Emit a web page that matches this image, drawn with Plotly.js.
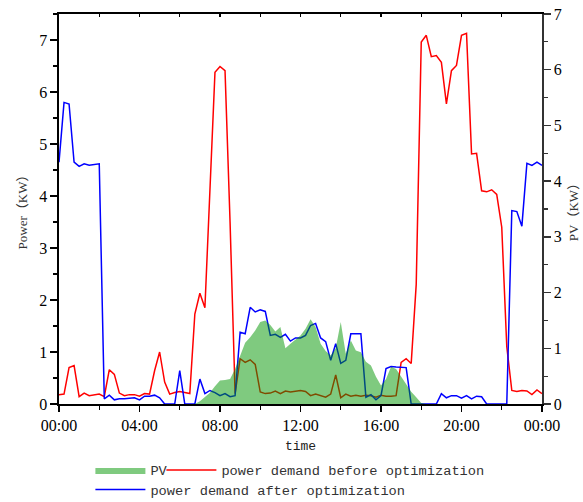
<!DOCTYPE html>
<html>
<head>
<meta charset="utf-8">
<script src="https://cdn.plot.ly/plotly-3.0.1.min.js"></script>
<style>html,body{margin:0;padding:0;background:#fff;}#chart{width:583px;height:502px;}</style>
</head>
<body>
<div id="chart"></div>
<script>
// time of day in hours (15-minute steps)
const hours = [0,0.25,0.5,0.75,1,1.25,1.5,1.75,2,2.25,2.5,2.75,3,3.25,3.5,3.75,4,4.25,4.5,4.75,5,5.25,5.5,5.75,6,6.25,6.5,6.75,7,7.25,7.5,7.75,8,8.25,8.5,8.75,9,9.25,9.5,9.75,10,10.25,10.5,10.75,11,11.25,11.5,11.75,12,12.25,12.5,12.75,13,13.25,13.5,13.75,14,14.25,14.5,14.75,15,15.25,15.5,15.75,16,16.25,16.5,16.75,17,17.25,17.5,17.75,18,18.25,18.5,18.75,19,19.25,19.5,19.75,20,20.25,20.5,20.75,21,21.25,21.5,21.75,22,22.25,22.5,22.75,23,23.25,23.5,23.75,24];

const demandBefore = [0.18,0.19,0.70,0.74,0.14,0.21,0.16,0.17,0.19,0.14,0.66,0.57,0.21,0.16,0.18,0.18,0.15,0.20,0.19,0.64,1.00,0.42,0.19,0.22,0.24,0.22,0.20,1.73,2.13,1.85,4.10,6.38,6.49,6.41,3.50,0.20,0.87,0.80,0.85,0.76,0.23,0.20,0.21,0.25,0.20,0.25,0.23,0.24,0.26,0.24,0.16,0.19,0.16,0.13,0.19,0.56,0.12,0.19,0.15,0.17,0.15,0.17,0.16,0.13,0.17,0.15,0.15,0.16,0.80,0.87,0.78,2.30,6.96,7.09,6.68,6.70,6.57,5.77,6.41,6.51,7.09,7.13,4.81,4.82,4.10,4.08,4.12,4.03,3.40,1.10,0.26,0.24,0.26,0.25,0.18,0.27,0.20];

const demandAfter = [4.65,5.80,5.77,4.65,4.57,4.62,4.59,4.60,4.62,0.10,0.17,0.08,0.10,0.10,0.11,0.12,0.08,0.15,0.15,0.17,0.12,0.00,0.00,0.00,0.64,0.00,0.00,0.00,0.48,0.20,0.26,0.22,0.16,0.20,0.14,0.16,1.38,1.35,1.86,1.77,1.81,1.78,1.32,1.34,1.28,1.34,1.21,1.27,1.27,1.32,1.51,1.55,1.27,1.20,0.84,1.16,0.78,0.84,1.35,1.35,1.35,0.13,0.18,0.08,0.16,0.68,0.72,0.71,0.71,0.70,0.00,0.00,0.00,0.00,0.00,0.00,0.20,0.12,0.16,0.16,0.11,0.16,0.10,0.15,0.14,0.00,0.00,0.00,0.00,0.00,3.72,3.70,3.42,4.63,4.59,4.65,4.59];

const pv = [0,0,0,0,0,0,0,0,0,0,0,0,0,0,0,0,0,0,0,0,0,0,0,0,0,0,0,0,0.05,0.12,0.20,0.32,0.42,0.43,0.45,0.63,0.87,1.10,1.20,1.32,1.47,1.50,1.42,1.30,1.38,1.00,1.08,1.15,1.23,1.35,1.52,1.38,1.08,0.95,0.87,1.00,1.47,0.90,1.14,0.96,0.93,0.76,0.69,0.49,0.33,0.45,0.67,0.63,0.50,0.37,0.22,0.12,0.02,0,0,0,0,0,0,0,0,0,0,0,0,0,0,0,0,0,0,0,0,0,0,0,0];

const xTickVals = [0,4,8,12,16,20,24];
const xTickText = ["00:00","04:00","08:00","12:00","16:00","20:00","00:00"];

const serif = "Liberation Serif, 'Times New Roman', 'Noto Sans CJK SC', serif";
const mono = "Liberation Mono, 'DejaVu Sans Mono', 'Noto Sans CJK SC', monospace";

const traces = [
  {x: hours, y: demandBefore, type: 'scatter', mode: 'lines', name: 'power demand before optimization',
   line: {color: '#ff0000', width: 1.5}, xaxis: 'x', yaxis: 'y', legend: 'legend3'},
  {x: hours, y: pv, type: 'scatter', mode: 'lines', name: 'PV', fill: 'tozeroy',
   fillcolor: 'rgba(0,150,0,0.5)', line: {color: 'rgba(0,150,0,0)', width: 0}, xaxis: 'x', yaxis: 'y2', legend: 'legend'},
  {x: hours, y: demandAfter, type: 'scatter', mode: 'lines', name: 'power demand after optimization',
   line: {color: '#0000ff', width: 1.5}, xaxis: 'x', yaxis: 'y', legend: 'legend2'},
  {x: [0], y: [0], type: 'scatter', mode: 'none', xaxis: 'x2', yaxis: 'y', showlegend: false, hoverinfo: 'skip'}
];

const legendFont = {family: mono, size: 13.7, color: '#333'};

const layout = {
  width: 583, height: 502,
  margin: {l: 59, r: 41, t: 14, b: 98, autoexpand: false},
  paper_bgcolor: '#fff', plot_bgcolor: '#fff',
  showlegend: true,
  xaxis: {
    range: [0, 24], tickmode: 'array', tickvals: xTickVals, ticktext: xTickText,
    ticks: 'outside', ticklen: 6, tickwidth: 1.5, tickcolor: '#000',
    minor: {tickmode: 'linear', tick0: 0, dtick: 2, ticks: 'outside', ticklen: 4, tickwidth: 1.2, tickcolor: '#000'},
    showline: true, linecolor: '#000', linewidth: 1.6, showgrid: false, zeroline: false,
    tickfont: {family: serif, size: 16, color: '#000'},
    title: {text: 'time', font: {family: mono, size: 13, color: '#222'}, standoff: 8}
  },
  xaxis2: {
    overlaying: 'x', side: 'top', anchor: 'y', range: [0, 24], tickmode: 'linear', tick0: 0, dtick: 2,
    ticks: 'inside', ticklen: 3, tickwidth: 1.2, tickcolor: '#000', showticklabels: false,
    showline: true, linecolor: '#000', linewidth: 1.6, showgrid: false, zeroline: false
  },
  yaxis: {
    range: [0, 7.5], tickmode: 'linear', tick0: 0, dtick: 1,
    ticks: 'outside', ticklen: 7, tickwidth: 1.5, tickcolor: '#000',
    minor: {tickmode: 'linear', tick0: 0, dtick: 0.5, ticks: 'outside', ticklen: 4, tickwidth: 1.2, tickcolor: '#000'},
    showline: true, linecolor: '#000', linewidth: 1.6, showgrid: false, zeroline: false,
    tickfont: {family: serif, size: 16, color: '#000'},
    title: {text: 'Power（KW）', font: {family: serif, size: 13, color: '#333'}, standoff: 8}
  },
  yaxis2: {
    overlaying: 'y', side: 'right', anchor: 'x', range: [0, 7], tickmode: 'linear', tick0: 0, dtick: 1,
    ticks: 'outside', ticklen: 7, tickwidth: 1.5, tickcolor: '#333',
    minor: {tickmode: 'linear', tick0: 0, dtick: 0.5, ticks: 'outside', ticklen: 4, tickwidth: 1.2, tickcolor: '#333'},
    showline: true, linecolor: '#333', linewidth: 1.6, showgrid: false, zeroline: false,
    tickfont: {family: serif, size: 16, color: '#000'},
    title: {text: 'PV（KW）', font: {family: serif, size: 13, color: '#333'}, standoff: 8}
  },
  legend: {
    orientation: 'h', x: 0.065, y: -0.130, xanchor: 'left', yanchor: 'top',
    font: legendFont, bgcolor: 'rgba(0,0,0,0)', itemwidth: 50
  },
  legend3: {
    orientation: 'h', x: 0.212, y: -0.130, xanchor: 'left', yanchor: 'top',
    font: legendFont, bgcolor: 'rgba(0,0,0,0)', itemwidth: 50
  },
  legend2: {
    orientation: 'h', x: 0.065, y: -0.180, xanchor: 'left', yanchor: 'top',
    font: legendFont, bgcolor: 'rgba(0,0,0,0)', itemwidth: 50
  }
};

Plotly.newPlot('chart', traces, layout, {staticPlot: true, displayModeBar: false});
</script>
</body>
</html>
